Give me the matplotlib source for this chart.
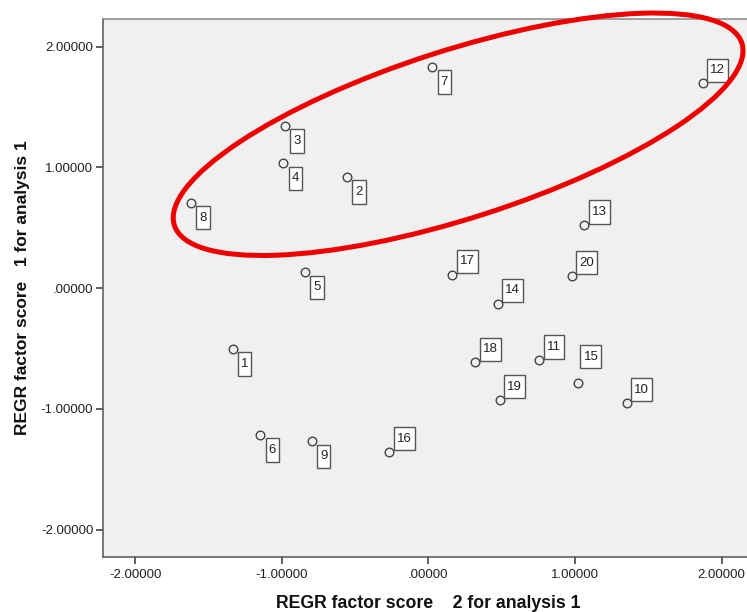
import matplotlib
matplotlib.use("Agg")
import matplotlib.pyplot as plt
from matplotlib.patches import Ellipse
from matplotlib.path import Path
from matplotlib.transforms import ScaledTranslation

plt.rcParams['font.family'] = ['Liberation Sans', 'DejaVu Sans']

# case numbers and factor scores
cases = [str(i) for i in range(1, 21)]
score2 = [-1.335, -0.556, -0.978, -0.990, -0.842, -1.146, 0.026, -1.619, -0.796, 1.353,
          0.753, 1.869, 1.062, 0.472, 1.019, -0.269, 0.162, 0.319, 0.485, 0.978]
score1 = [-0.502, 0.919, 1.341, 1.032, 0.132, -1.214, 1.830, 0.709, -1.269, -0.949,
          -0.596, 1.695, 0.522, -0.127, -0.781, -1.354, 0.113, -0.615, -0.924, 0.103]
# where each case label sits relative to its point
placement = ['below'] * 9 + ['above'] * 5 + ['high'] + ['above'] * 5

x_ticks = [-2, -1, 0, 1, 2]
x_ticklabels = ['-2.00000', '-1.00000', '.00000', '1.00000', '2.00000']
y_ticks = [-2, -1, 0, 1, 2]
y_ticklabels = ['-2.00000', '-1.00000', '.00000', '1.00000', '2.00000']

offsets = {'below': (8.6, -10.8), 'above': (10.8, 9.4), 'high': (9.4, 18.7)}


def label_box(x0, y0, width, height, mutation_size):
    # SPSS label boxes are taller than wide, so pad x and y separately
    px = 0.23 * mutation_size
    py = 0.43 * mutation_size
    x0, y0 = x0 - px, y0 - py
    x1, y1 = x0 + width + 2 * px, y0 + height + 2 * py
    return Path([(x0, y0), (x1, y0), (x1, y1), (x0, y1), (x0, y0)], closed=True)


fig = plt.figure(figsize=(7.47, 6.12), dpi=100)
# axes runs a little past the right edge, like the cropped screenshot
ax = fig.add_axes([103 / 747, 55 / 612, 651 / 747, 538 / 612])
ax.set_facecolor('#f0f0f0')

ax.plot(score2, score1, 'o', ls='none', ms=6.2, mfc='none', mec='#444444', mew=1.0, zorder=3)

for lab, x, y, p in zip(cases, score2, score1, placement):
    ax.annotate(lab, (x, y), xytext=offsets[p], textcoords='offset points',
                ha='center', va='center', fontsize=9.5, color='#222222', zorder=4,
                bbox=dict(boxstyle=label_box, fc='white', ec='#555555', lw=1.0))

ax.set_xlim(-2.22, 2.22)
ax.set_ylim(-2.225, 2.228)
ax.set_xticks(x_ticks)
ax.set_xticklabels(x_ticklabels)
ax.set_yticks(y_ticks)
ax.set_yticklabels(y_ticklabels)
ax.tick_params(length=5, width=1.2, color='#444444', labelsize=9.5, labelcolor='#222222', pad=2)
ax.tick_params(axis='x', pad=4)

for s in ax.spines.values():
    s.set_color('#555555')
    s.set_linewidth(1.1)
ax.spines['top'].set_color('#888888')

ax.set_xlabel('REGR factor score    2 for analysis 1', fontsize=12.7, fontweight='bold',
              color='#111111', labelpad=9.5)
ax.set_ylabel('REGR factor score   1 for analysis 1', fontsize=12.5, fontweight='bold',
              color='#111111', labelpad=8)

# red highlight ring around the upper group (size in inches, centred in data coords)
ring = Ellipse((0, 0), 5.96, 1.68, angle=17.8, fill=False, ec='#ee0000', lw=3.6,
               transform=fig.dpi_scale_trans + ScaledTranslation(0.202, 1.274, ax.transData),
               clip_on=False, zorder=5)
ax.add_patch(ring)

fig.savefig('out.png', dpi=100)
